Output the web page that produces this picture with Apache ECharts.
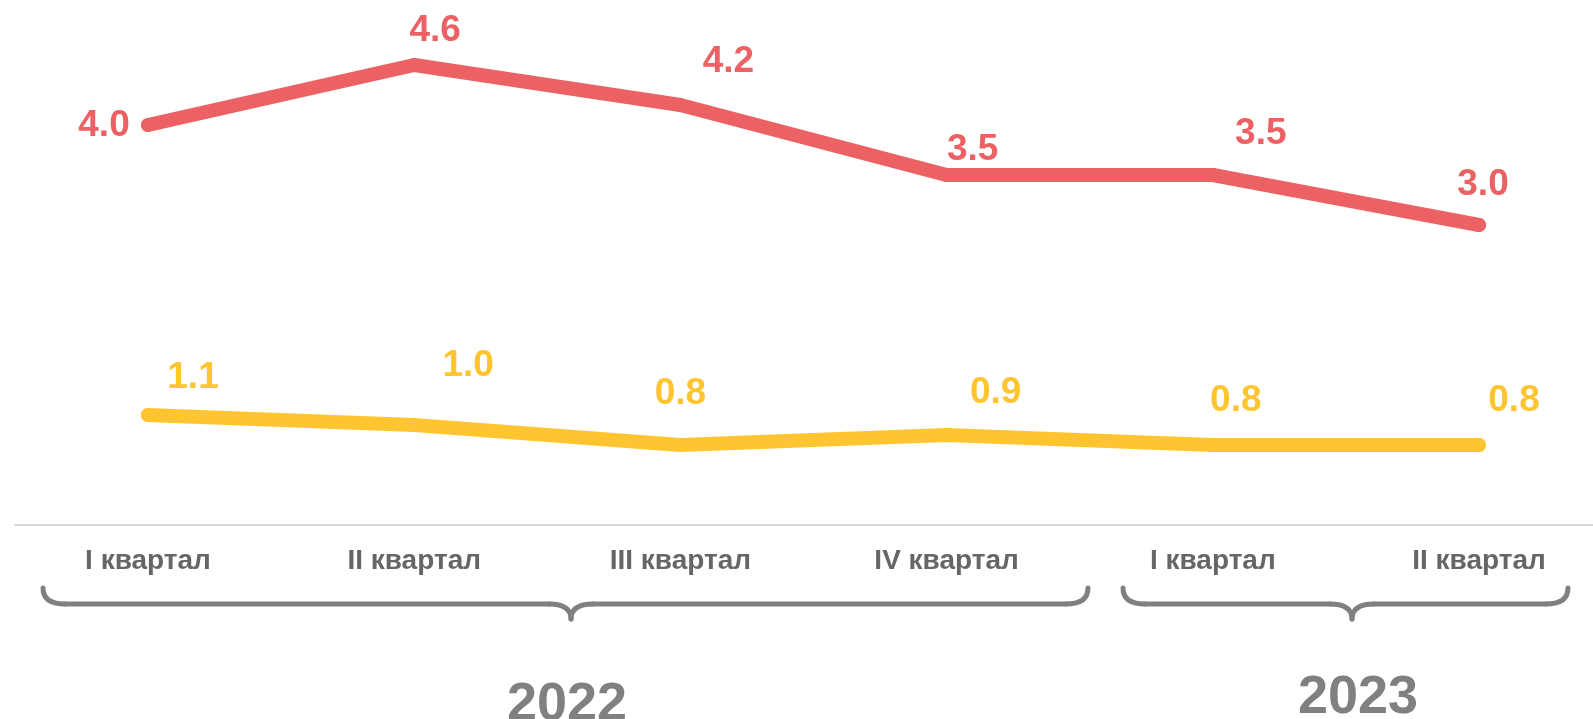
<!DOCTYPE html>
<html>
<head>
<meta charset="utf-8">
<script src="https://cdn.jsdelivr.net/npm/echarts@6/dist/echarts.min.js"></script>
<style>
  html, body { margin: 0; padding: 0; background: #fff; }
  #chart { width: 1593px; height: 719px; }
</style>
</head>
<body>
<div id="chart"></div>
<script>
// данные
const quarters = ['I квартал', 'II квартал', 'III квартал', 'IV квартал', 'I квартал', 'II квартал']
const redValues = [4.0, 4.6, 4.2, 3.5, 3.5, 3.0]
const yellowValues = [1.1, 1.0, 0.8, 0.9, 0.8, 0.8]
const years = ['2022', '2023']

// где подписи стоят относительно точки
const redLabelOffsets = [[-44, 1], [21, -34], [48, -43], [26, -25], [48, -41], [4, -40]]
const yellowLabelOffsets = [[45, -37], [54, -59], [0, -51], [49, -42], [23, -44], [35, -44]]

const RED = '#EC6264'
const YELLOW = '#FFC531'
const GREY = '#808080'

const myChart = echarts.init(document.getElementById('chart'))

function withLabels(values, offsets) {
  return values.map((v, i) => ({
    value: v,
    label: { offset: offsets[i] }
  }))
}

// фигурная скобка из линий и кривых
function brace(x0, x1, tip, yTop, yMid, yBot, r) {
  const st = { stroke: GREY, lineWidth: 5, fill: null, lineCap: 'round' }
  const curve = (x1_, y1_, x2_, y2_, cx, cy) => ({
    type: 'bezierCurve',
    shape: { x1: x1_, y1: y1_, x2: x2_, y2: y2_, cpx1: cx, cpy1: cy },
    style: st
  })
  const line = (x1_, y1_, x2_, y2_) => ({
    type: 'line',
    shape: { x1: x1_, y1: y1_, x2: x2_, y2: y2_ },
    style: st
  })
  return [
    curve(x0, yTop, x0 + r, yMid, x0, yMid),
    line(x0 + r, yMid, tip - r, yMid),
    curve(tip - r, yMid, tip, yBot, tip, yMid),
    curve(tip, yBot, tip + r, yMid, tip, yMid),
    line(tip + r, yMid, x1 - r, yMid),
    curve(x1 - r, yMid, x1, yTop, x1, yMid)
  ]
}

const labelFont = {
  fontFamily: '"Liberation Sans", Arial, sans-serif',
  fontWeight: 'bold',
  fontSize: 37
}

let option = {
  backgroundColor: '#fff',
  animation: false,
  grid: { left: 148, right: 114, top: 25, bottom: 194 },
  xAxis: {
    type: 'category',
    boundaryGap: false,
    data: quarters,
    axisLine: { show: false },
    axisTick: { show: false },
    axisLabel: {
      color: '#666',
      fontFamily: '"Liberation Sans", Arial, sans-serif',
      fontWeight: 'bold',
      fontSize: 28,
      margin: 22
    }
  },
  yAxis: {
    type: 'value',
    min: 0,
    max: 5,
    show: false,
    splitLine: { show: false }
  },
  series: [
    {
      name: 'red',
      type: 'line',
      data: withLabels(redValues, redLabelOffsets),
      symbol: 'circle',
      symbolSize: 14,
      itemStyle: { color: RED },
      lineStyle: { color: RED, width: 14, cap: 'round', join: 'round' },
      label: Object.assign({ show: true, position: 'inside', color: RED,
        formatter: p => p.value.toFixed(1) }, labelFont)
    },
    {
      name: 'yellow',
      type: 'line',
      data: withLabels(yellowValues, yellowLabelOffsets),
      symbol: 'circle',
      symbolSize: 14,
      itemStyle: { color: YELLOW },
      lineStyle: { color: YELLOW, width: 14, cap: 'round', join: 'round' },
      label: Object.assign({ show: true, position: 'inside', color: YELLOW,
        formatter: p => p.value.toFixed(1) }, labelFont)
    }
  ],
  graphic: [].concat(
    // линия оси через всю ширину
    [{
      type: 'line',
      shape: { x1: 14, y1: 525, x2: 1593, y2: 525 },
      style: { stroke: '#d9d9d9', lineWidth: 2 }
    }],
    brace(43, 1088, 571, 588, 604, 619, 22),
    brace(1123, 1568, 1352, 588, 604, 619, 22),
    [
      {
        type: 'text',
        x: 567, y: 705,
        style: { text: years[0], fill: GREY, fontSize: 54, fontWeight: 'bold',
          fontFamily: '"Liberation Sans", Arial, sans-serif', textAlign: 'center', textVerticalAlign: 'middle' }
      },
      {
        type: 'text',
        x: 1358, y: 698,
        style: { text: years[1], fill: GREY, fontSize: 54, fontWeight: 'bold',
          fontFamily: '"Liberation Sans", Arial, sans-serif', textAlign: 'center', textVerticalAlign: 'middle' }
      }
    ]
  )
}

option && myChart.setOption(option)
window.addEventListener('resize', myChart.resize)
</script>
</body>
</html>
